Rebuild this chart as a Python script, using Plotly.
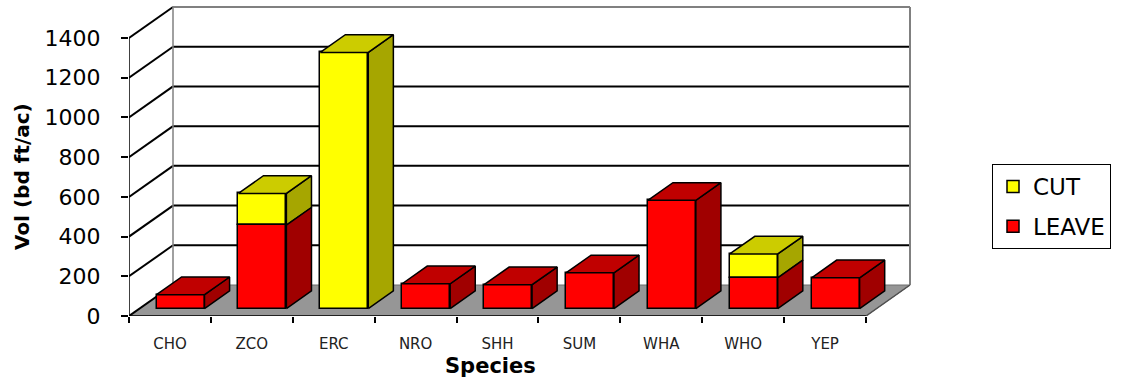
import plotly.graph_objects as go

# Species and volumes (bd ft/ac)
categories = ["CHO", "ZCO", "ERC", "NRO", "SHH", "SUM", "WHA", "WHO", "YEP"]
leave = [70, 420, 0, 125, 120, 180, 545, 155, 155]
cut = [0, 160, 1290, 0, 0, 0, 0, 120, 0]
y_ticks = [0, 200, 400, 600, 800, 1000, 1200, 1400]

# pseudo-3D geometry (axis units): depth offset of the back wall
PX_X = 737 / 9          # px per category
PX_Y = 278 / 1400       # px per value unit
DX = 44 / PX_X
DY = 31 / PX_Y
F1, F2 = 0.24, 0.81     # bar front/back depth fractions
BW = 48 / PX_X          # bar width
YMAX = 1400
NCAT = len(categories)
X0, X1 = -0.5, NCAT - 0.5

COLORS = {
    "CUT": ("#FFFF00", "#CCCC00", "#A6A600"),
    "LEAVE": ("#FF0000", "#C00000", "#A00000"),
}

fig = go.Figure()

# front faces as bars
segments = {
    "CUT": ([c if c else None for c in cut], [F1 * DY + l for l in leave]),
    "LEAVE": ([l if l else None for l in leave], [F1 * DY] * NCAT),
}
for name in ["CUT", "LEAVE"]:
    vals, base = segments[name]
    fig.add_trace(go.Bar(
        x=[i + F1 * DX for i in range(NCAT)], y=vals, base=base, width=BW,
        name=name, legendgroup=name,
        marker=dict(color=COLORS[name][0], line=dict(color="black", width=1.5)),
    ))


def side_face(i, b0, b1):
    xr = i + BW / 2
    return [xr + F1 * DX, xr + F2 * DX, xr + F2 * DX, xr + F1 * DX, xr + F1 * DX, None], \
           [b0 + F1 * DY, b0 + F2 * DY, b1 + F2 * DY, b1 + F1 * DY, b0 + F1 * DY, None]


def top_face(i, b1):
    xl, xr = i - BW / 2, i + BW / 2
    return [xl + F1 * DX, xr + F1 * DX, xr + F2 * DX, xl + F2 * DX, xl + F1 * DX, None], \
           [b1 + F1 * DY, b1 + F1 * DY, b1 + F2 * DY, b1 + F2 * DY, b1 + F1 * DY, None]


faces = {k: {"side": ([], []), "top": ([], [])} for k in COLORS}
for i in range(NCAT):
    parts = [("LEAVE", 0, leave[i]), ("CUT", leave[i], leave[i] + cut[i])]
    parts = [p for p in parts if p[2] > p[1]]
    for name, b0, b1 in parts:
        sx, sy = side_face(i, b0, b1)
        faces[name]["side"][0].extend(sx)
        faces[name]["side"][1].extend(sy)
    name, b0, b1 = parts[-1]
    tx, ty = top_face(i, b1)
    faces[name]["top"][0].extend(tx)
    faces[name]["top"][1].extend(ty)

for name, (_, top_c, side_c) in COLORS.items():
    for kind, col in (("side", side_c), ("top", top_c)):
        xs, ys = faces[name][kind]
        if xs:
            fig.add_trace(go.Scatter(
                x=xs, y=ys, mode="lines", fill="toself", fillcolor=col,
                line=dict(color="black", width=1.5), showlegend=False,
                hoverinfo="skip",
            ))

# walls, floor and gridlines
shapes = []


def line(x0, y0, x1, y1, color="black", width=2):
    shapes.append(dict(type="line", x0=x0, y0=y0, x1=x1, y1=y1, layer="below",
                       line=dict(color=color, width=width)))


shapes.append(dict(
    type="path", layer="below", fillcolor="#969696", line=dict(color="#6E6E6E", width=1),
    path=f"M{X0},0 L{X1},0 L{X1 + DX},{DY} L{X0 + DX},{DY} Z"))
for t in y_ticks:
    line(X0, t, X0 + DX, t + DY)
    if t > 0:
        line(X0 + DX, t + DY, X1 + DX, t + DY, "#808080" if t == YMAX else "black")
line(X0 + DX, DY, X0 + DX, YMAX + DY, "#808080", 1.5)
line(X1 + DX, DY, X1 + DX, YMAX + DY, "#808080", 2)
line(X0, 0, X0, YMAX, "black", 1.5)
line(X0, 0, X1, 0, "black", 1.5)
line(X1, 0, X1 + DX, DY, "#505050", 1.5)

W_PLOT = 1124 - 129 - 212
H_PLOT = 385 - 5 - 69
FONT = "DejaVu Sans, Arial, sans-serif"

# axis titles, centred on the front axes
annotations = [
    dict(text="<b>Vol (bd ft/ac)</b>", textangle=-90, font=dict(size=20),
         xref="paper", x=(22 - 129) / W_PLOT, xanchor="center",
         yref="y", y=YMAX / 2, yanchor="middle", showarrow=False),
    dict(text="<b>Species</b>", font=dict(size=21),
         xref="x", x=(NCAT - 1) / 2 - 0.08, xanchor="center",
         yref="paper", y=(316 - 366) / H_PLOT, yanchor="middle", showarrow=False),
]

fig.update_layout(
    width=1124, height=385,
    margin=dict(l=129, r=212, t=5, b=69),
    paper_bgcolor="white", plot_bgcolor="white",
    barmode="overlay", bargap=0,
    font=dict(family=FONT, color="black"),
    shapes=shapes,
    annotations=annotations,
    showlegend=True,
    legend=dict(
        x=(992 - 129) / W_PLOT, y=(316 - 164) / H_PLOT, xanchor="left", yanchor="top",
        bordercolor="black", borderwidth=1, bgcolor="white",
        font=dict(size=23), tracegroupgap=7, itemwidth=30,
    ),
    xaxis=dict(
        range=[X0, X0 + W_PLOT / PX_X], showgrid=False, zeroline=False, showline=False,
        tickmode="array", tickvals=list(range(NCAT)), ticktext=categories, ticks="",
        tickfont=dict(size=15, color="#222222"), ticklabelstandoff=17,
        minor=dict(tick0=-0.5, dtick=1, ticks="outside", ticklen=6,
                   tickcolor="black", tickwidth=1.5, showgrid=False),
    ),
    yaxis=dict(
        range=[0, H_PLOT / PX_Y], showgrid=False, zeroline=False, showline=False,
        tickmode="array", tickvals=y_ticks, ticks="outside", ticklen=7,
        tickcolor="black", tickwidth=1.5, tickfont=dict(size=22),
        ticklabelstandoff=16,
    ),
)

fig.write_html("out.html")
